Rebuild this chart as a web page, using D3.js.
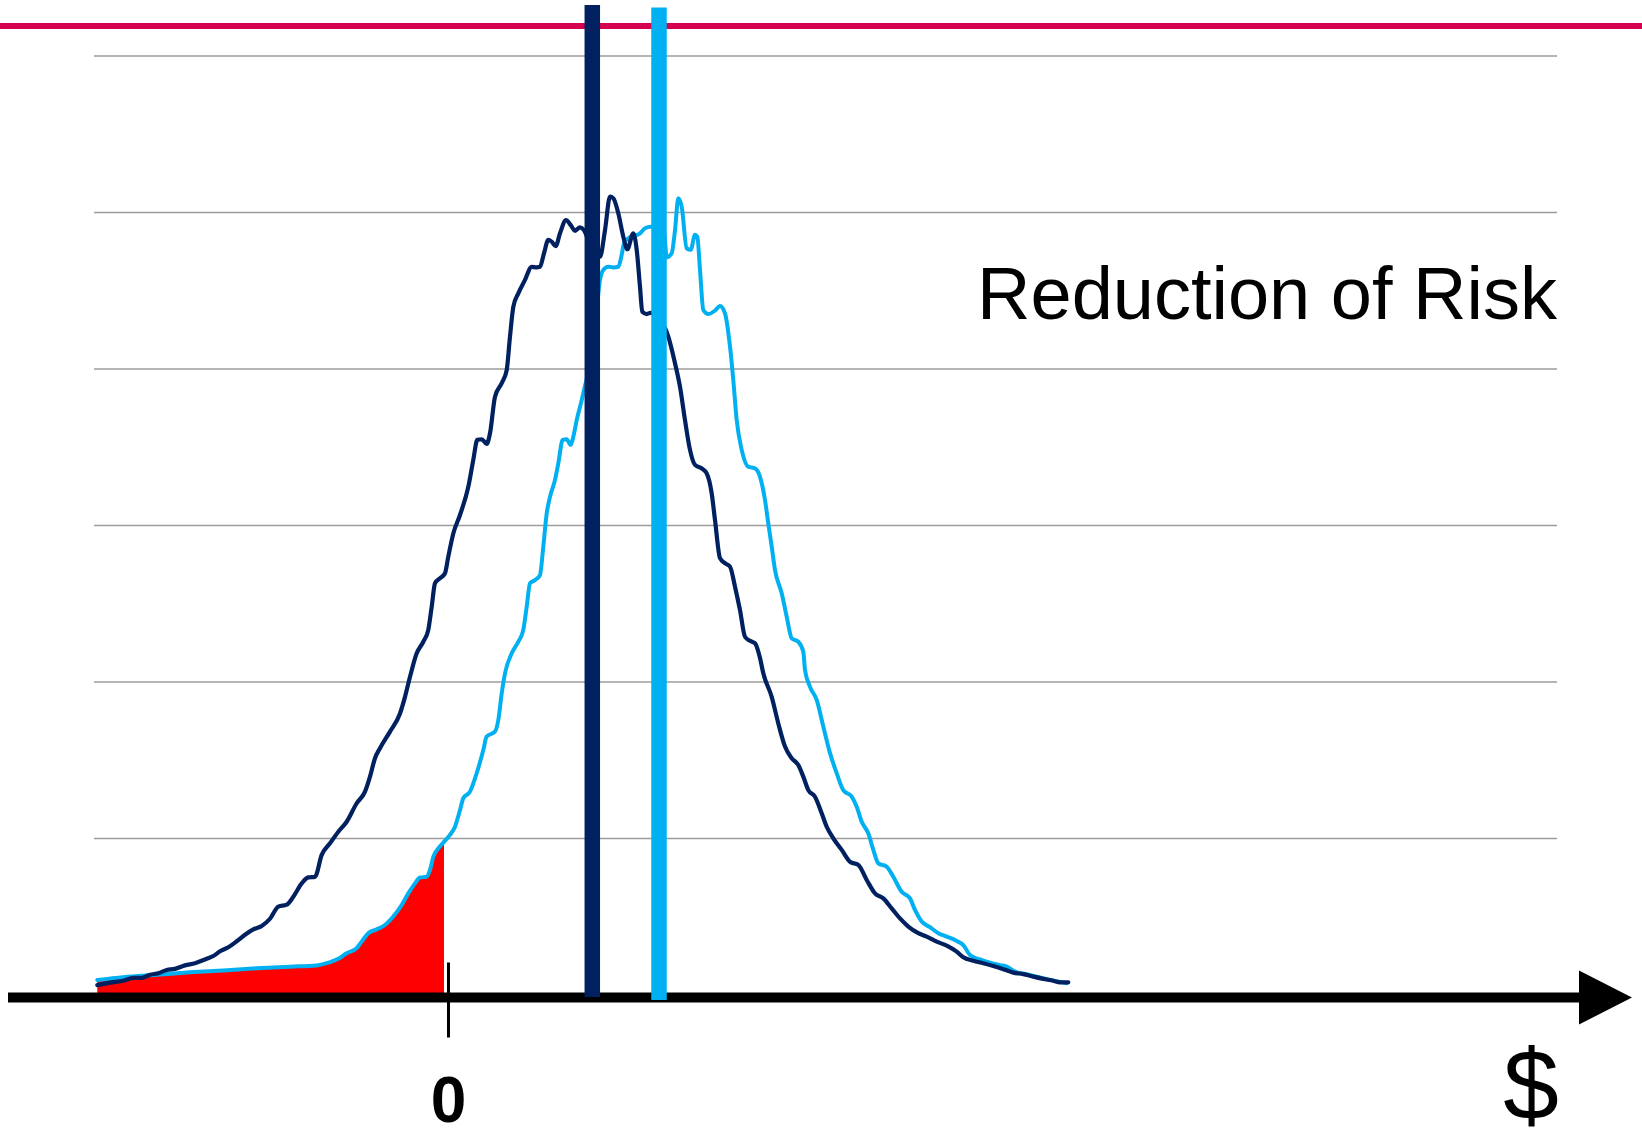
<!DOCTYPE html>
<html>
<head>
<meta charset="utf-8">
<script src="https://cdnjs.cloudflare.com/ajax/libs/d3/7.8.5/d3.min.js"></script>
<style>
  html, body { margin: 0; padding: 0; background: #ffffff; }
  svg { display: block; }
</style>
</head>
<body>
<svg id="chart" width="1642" height="1142"></svg>
<script>
// Outcome distribution before the change (dark) — x in $ units, y in frequency
const darkX = [-35.07,-33.8,-32.47,-31.47,-30.63,-29.8,-28.97,-28.13,-27.3,-26.3,
  -25.3,-24.3,-23.47,-22.8,-21.97,-21.13,-20.3,-19.47,-18.63,-17.8,
  -16.97,-16.13,-15.47,-14.63,-13.97,-13.3,-12.63,-11.8,-10.97,-10.13,
  -9.13,-8.3,-7.8,-7.3,-6.8,-5.8,-4.8,-4.3,-3.8,-3.13,
  -2.47,-1.97,-1.63,-1.3,-0.8,-0.3,0.03,0.53,1.2,2.03,
  2.53,2.93,3.37,3.87,4.2,4.7,5.37,5.87,6.2,6.53,
  7.03,7.7,8.37,8.87,9.2,9.6,10.03,10.37,10.77,11.2,
  11.8,12.27,12.7,13.2,13.6,14.4,
  15.2,15.7,16.2,16.53,17.03,17.53,17.93,18.53,18.87,19.2,19.43,19.87,20.27,21.1,
  22.03,22.7,23.2,23.7,24.2,24.7,25.37,25.87,26.37,26.7,
  27.2,27.7,28.2,28.7,29.2,29.7,30.2,30.7,31.2,31.53,
  32.37,33.03,33.7,34.37,35.03,35.53,36.03,36.7,37.37,37.87,
  38.53,39.37,40.2,41.03,41.87,42.7,43.53,44.37,45.2,46.03,
  47.03,47.87,48.87,49.87,50.87,51.53,52.53,53.53,54.53,55.53,
  56.53,57.53,58.53,59.53,60.53,61.2,62.03];
const darkY = [3.0,3.8,4.4,5.3,5.3,6.3,6.8,7.8,8.2,9.3,
  10.0,11.2,12.3,13.8,15.1,17.0,19.1,20.8,21.9,24.2,
  28.1,28.7,31.2,35.5,37.4,37.6,44.6,48.3,52.0,55.2,
  61.1,64.8,69.6,75.5,78.7,84.0,89.8,95.1,101.5,109.0,
  112.7,116.5,123.9,131.4,133.0,134.6,139.9,147.3,153.2,162.2,
  170.8,177.2,177.4,175.9,179.3,191.0,195.3,199.5,210.2,219.7,
  224.0,228.3,232.5,232.3,232.5,236.8,241.1,240.5,239.1,243.2,
  247.4,245.8,244.0,245.1,244.2,237.9,
  235.7,244.2,254.9,254.4,249.6,242.1,238.1,243.2,237.9,226.1,218.1,217.4,217.8,216.1,
  210.2,201.7,194.2,183.5,174.0,169.2,168.1,166.5,160.1,151.6,
  139.4,137.8,136.7,130.3,122.8,114.3,113.0,112.2,107.5,102.6,
  95.1,86.6,79.2,75.5,73.3,69.6,65.3,63.2,57.9,53.6,
  49.9,46.2,42.4,41.4,36.6,32.3,30.7,27.5,24.3,21.7,
  19.6,18.5,16.9,15.6,13.7,11.9,10.8,10.0,9.1,8.1,
  7.0,6.5,5.7,5.0,4.4,3.9,3.9];

// Outcome distribution after the change (light)
const lightX = [-35.07,-32.47,-29.13,-25.8,-22.47,-19.13,-15.8,-13.13,-12.13,-10.97,
  -10.13,-9.13,-8.63,-7.97,-7.13,-6.3,-5.47,-4.63,-3.97,-3.3,
  -2.8,-2.13,-1.8,-1.47,-0.97,-0.47,0.2,0.7,1.2,1.53,
  2.2,2.87,3.53,3.87,4.7,5.03,5.37,5.7,6.37,7.03,
  7.53,7.87,8.2,8.7,9.2,9.53,9.87,10.2,10.7,11.03,
  11.47,11.87,12.27,12.53,12.87,13.37,13.6,14.6,
  15.2,15.53,16.03,16.53,17.03,17.37,17.6,18.03,18.6,19.2,19.7,20.27,21.6,
  21.87,22.37,22.7,23.03,23.37,23.87,24.27,24.7,24.93,25.2,
  25.53,26.03,26.7,27.2,27.7,28.2,28.53,28.87,29.37,30.03,
  30.7,31.2,31.7,32.03,32.37,32.7,33.37,33.87,34.37,35.03,
  35.53,35.7,36.2,36.87,37.53,38.2,38.87,39.53,40.37,40.87,
  41.37,42.03,42.53,43.03,43.87,44.53,45.37,46.2,46.7,47.37,
  48.2,49.03,49.87,50.87,51.53,52.2,53.2,54.2,55.2,55.87,
  56.7,57.87,59.87,61.87];
const lightY = [4.6,5.5,6.3,7.1,7.7,8.4,8.9,9.3,10.0,11.4,
  13.2,14.8,16.9,19.6,20.8,22.2,24.9,28.6,32.3,35.5,
  37.4,37.6,39.8,44.0,46.7,48.5,51.0,53.6,58.9,62.7,
  64.8,70.7,78.1,82.4,84.0,87.7,96.2,102.6,109.0,112.7,
  116.5,123.9,131.4,132.4,134.0,143.1,153.7,159.0,164.4,169.7,
  177.2,177.4,175.6,178.2,183.5,189.9,193.1,209.1,
  228.3,231.5,232.5,232.3,232.5,236.3,240.0,241.6,242.3,243.2,244.8,245.3,243.6,
  235.5,236.8,244.2,254.4,251.7,238.4,237.9,242.7,242.1,231.5,
  218.7,217.4,218.5,220.0,217.6,207.0,196.3,183.5,174.0,168.6,
  168.1,165.4,158.0,150.5,143.1,135.6,128.2,120.7,113.8,112.7,
  109.5,103.7,98.3,94.1,85.6,77.1,70.7,65.3,63.2,60.0,
  55.2,51.5,46.2,41.9,40.8,37.6,32.8,30.7,27.0,23.3,
  21.5,19.6,18.5,17.1,15.8,12.6,11.2,10.2,9.4,8.9,
  7.3,6.5,4.9,3.6];

// Mean outcome of each distribution
const meanDark = 14.43;
const meanLight = 21.1;
// Shaded loss region of the light distribution ends here
const lossCutoff = -0.4;

const gridValues = [0, 50, 100, 150, 200, 250, 300];
const tickValues = [0];
const tickLabels = ["0"];
const axisTitle = "$";
const noteText = "Reduction of Risk";

const W = 1642, H = 1142;
const FONT = "'Liberation Sans', Arial, sans-serif";
const colDark = "#002060", colLight = "#00B0F0";

const svg = d3.select("#chart");

const x = d3.scaleLinear().domain([-35.4, 110.9]).range([94, 1557]);
const y = d3.scaleLinear().domain([0, 300]).range([994.5, 55.5]);

// horizontal gridlines
const grid = svg.append("g")
  .attr("transform", `translate(${x.range()[0]},0)`)
  .call(d3.axisLeft(y).tickValues(gridValues).tickSize(-(x.range()[1] - x.range()[0])).tickFormat(""));
grid.select(".domain").remove();
grid.selectAll(".tick line").attr("stroke", "#9c9c9c").attr("stroke-width", 1.6);

// top rule
svg.append("line")
  .attr("x1", 0).attr("x2", W).attr("y1", 26).attr("y2", 26)
  .attr("stroke", "#D5004F").attr("stroke-width", 6);

const dark = d3.zip(darkX, darkY);
const light = d3.zip(lightX, lightY);

// loss area under the light curve
const lossPts = light.filter(d => d[0] <= lossCutoff);
const iAfter = light.findIndex(d => d[0] > lossCutoff);
if (iAfter > 0) {
  const a = light[iAfter - 1], b = light[iAfter];
  const t = (lossCutoff - a[0]) / (b[0] - a[0]);
  lossPts.push([lossCutoff, a[1] + t * (b[1] - a[1])]);
}
svg.append("path")
  .datum(lossPts)
  .attr("fill", "#FF0000")
  .attr("d", d3.area().x(d => x(d[0])).y0(y(0)).y1(d => y(d[1])).curve(d3.curveMonotoneX));

const line = d3.line().x(d => x(d[0])).y(d => y(d[1])).curve(d3.curveMonotoneX);

svg.append("path").datum(light)
  .attr("fill", "none").attr("stroke", colLight).attr("stroke-width", 4)
  .attr("stroke-linejoin", "round").attr("stroke-linecap", "round")
  .attr("d", line);

svg.append("path").datum(dark)
  .attr("fill", "none").attr("stroke", colDark).attr("stroke-width", 4.2)
  .attr("stroke-linejoin", "round").attr("stroke-linecap", "round")
  .attr("d", line);

// horizontal axis with arrow head
const axisY = 997.5;
svg.append("line")
  .attr("x1", 8).attr("x2", 1582).attr("y1", axisY).attr("y2", axisY)
  .attr("stroke", "#000").attr("stroke-width", 10);
svg.append("path")
  .attr("d", `M1579,${axisY - 27}L1632,${axisY}L1579,${axisY + 27}Z`)
  .attr("fill", "#000");

const xAxis = svg.append("g")
  .attr("transform", `translate(0,${axisY})`)
  .call(d3.axisBottom(x).tickValues(tickValues).tickFormat((d, i) => tickLabels[i]));
xAxis.select(".domain").remove();
xAxis.selectAll(".tick line")
  .attr("y1", -35).attr("y2", 40)
  .attr("stroke", "#000").attr("stroke-width", 3);
xAxis.selectAll(".tick text")
  .attr("y", 124.5).attr("dy", 0)
  .attr("fill", "#000")
  .style("font-family", FONT).style("font-size", "64px").style("font-weight", "bold");

// mean markers
svg.append("line")
  .attr("x1", x(meanDark)).attr("x2", x(meanDark))
  .attr("y1", 5).attr("y2", y(0) + 2.5)
  .attr("stroke", colDark).attr("stroke-width", 15.5);
svg.append("line")
  .attr("x1", x(meanLight)).attr("x2", x(meanLight))
  .attr("y1", 7.5).attr("y2", y(0) + 5.5)
  .attr("stroke", colLight).attr("stroke-width", 15.5);

// labels
svg.append("text")
  .attr("x", 1557).attr("y", 319)
  .attr("text-anchor", "end")
  .style("font-family", FONT).style("font-size", "74px")
  .attr("fill", "#000")
  .text(noteText);

svg.append("text")
  .attr("x", 1531).attr("y", 1119)
  .attr("text-anchor", "middle")
  .style("font-family", FONT).style("font-size", "100px")
  .attr("fill", "#000")
  .text(axisTitle);
</script>
</body>
</html>
